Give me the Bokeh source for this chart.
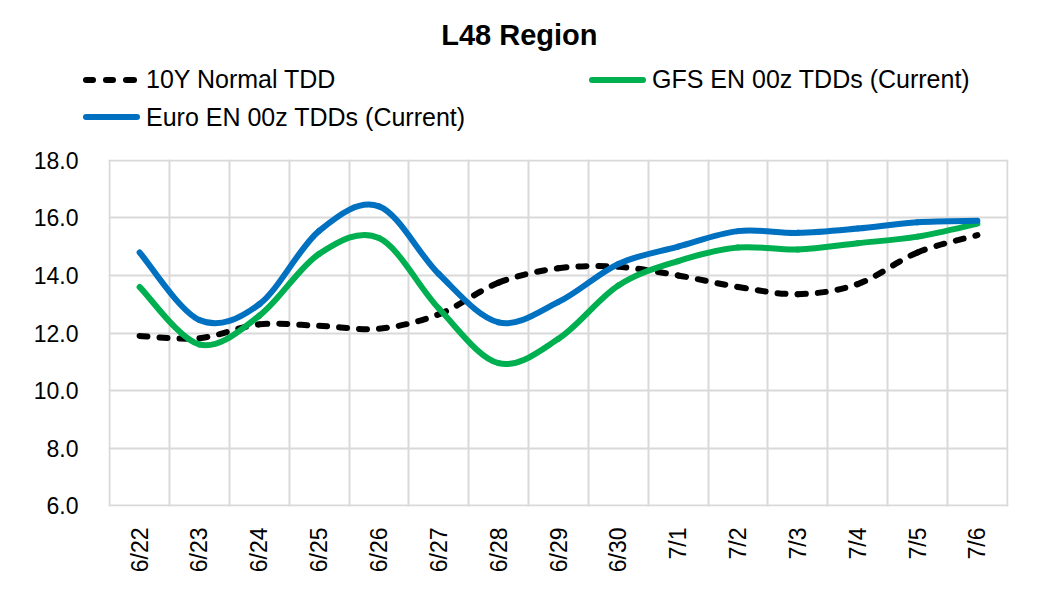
import numpy as np
from bokeh.plotting import figure
from bokeh.layouts import column
from bokeh.models import Range1d, FixedTicker, Div
from bokeh.embed import file_html
from bokeh.resources import INLINE

# ---- data -------------------------------------------------------------
dates = ["6/22", "6/23", "6/24", "6/25", "6/26", "6/27", "6/28", "6/29",
         "6/30", "7/1", "7/2", "7/3", "7/4", "7/5", "7/6"]
normal_10y = [11.9, 11.82, 12.3, 12.25, 12.15, 12.65, 13.75, 14.25,
              14.3, 14.0, 13.6, 13.35, 13.7, 14.8, 15.4]
gfs_en = [13.6, 11.6, 12.6, 14.75, 15.3, 12.85, 10.95, 11.8,
          13.65, 14.5, 14.97, 14.9, 15.12, 15.35, 15.8]
euro_en = [14.8, 12.45, 13.0, 15.55, 16.4, 14.05, 12.37, 13.08,
           14.4, 15.0, 15.54, 15.48, 15.63, 15.85, 15.9]
y_ticks = [6, 8, 10, 12, 14, 16, 18]
title_text = "L48 Region"

series = [
    ("10Y Normal TDD", normal_10y, "#000000", "8 12"),
    ("GFS EN 00z TDDs (Current)", gfs_en, "#00B050", "solid"),
    ("Euro EN 00z TDDs (Current)", euro_en, "#0070C0", "solid"),
]

FONT = "Liberation Sans"
W = 1032
HEAD_H = 140
LEFT, RIGHT, TOP = 108, 24, 19

# ---- header (title + legend) as positioned HTML -----------------------
legend_pos = [(83, 80.0), (589, 80.0), (83, 117.3)]   # sample left, centre y


def sample_html(x, yc, color, dash):
    parts = []
    if dash == "solid":
        parts.append((x, 57))
    else:
        parts += [(x, 13), (x + 20, 13), (x + 40, 14)]
    return "".join(
        f'<div style="position:absolute;left:{l}px;top:{yc - 3}px;width:{w}px;height:6px;'
        f'border-radius:3px;background:{color};"></div>' for l, w in parts)


html = [f'<div style="position:relative;width:{W}px;height:{HEAD_H}px;'
        f'font-family:\'{FONT}\';color:#000;">']
html.append(f'<div style="position:absolute;left:369.4px;width:300px;top:20.5px;'
            f'text-align:center;font-weight:bold;font-size:29px;line-height:29px;'
            f'white-space:nowrap;">{title_text}</div>')
for (name, vals, color, dash), (lx, ly) in zip(series, legend_pos):
    html.append(sample_html(lx, ly, color, dash))
    html.append(f'<div style="position:absolute;left:{lx + 63}px;top:{ly + 8.5 - 21.2}px;'
                f'font-size:25px;line-height:25px;white-space:nowrap;">{name}</div>')
html.append('</div>')
head = Div(text="".join(html), width=W, height=HEAD_H, margin=0)

# ---- main chart -------------------------------------------------------
n = len(dates)
p = figure(width=W, height=454, output_backend="svg", toolbar_location=None,
           x_range=Range1d(-0.02, n + 0.02), y_range=Range1d(5.97, 18.03),
           min_border_left=LEFT, min_border_right=RIGHT,
           min_border_top=TOP, min_border_bottom=88)
p.outline_line_color = None
p.background_fill_color = "white"
p.border_fill_color = "white"

p.xgrid.ticker = FixedTicker(ticks=list(range(n + 1)))
p.ygrid.ticker = FixedTicker(ticks=y_ticks)
for g in (p.xgrid, p.ygrid):
    g.grid_line_color = "#D9D9D9"
    g.grid_line_width = 2

centers = [i + 0.5 for i in range(n)]
p.xaxis.ticker = FixedTicker(ticks=centers)
p.xaxis.major_label_overrides = {c: d for c, d in zip(centers, dates)}
p.xaxis.major_label_orientation = np.pi / 2
p.xaxis.major_label_standoff = 21
p.yaxis.ticker = FixedTicker(ticks=y_ticks)
p.yaxis.major_label_overrides = {t: f"{t:.1f}" for t in y_ticks}
p.yaxis.major_label_standoff = 30
for ax in (p.xaxis[0], p.yaxis[0]):
    ax.axis_line_color = None
    ax.major_tick_line_color = None
    ax.minor_tick_line_color = None
    ax.major_tick_out = 0
    ax.major_label_text_font = FONT
    ax.major_label_text_font_size = "23px"
    ax.major_label_text_color = "#000000"


def bezier_parts(xs, ys):
    m = len(xs)
    out = {k: [] for k in ("x0", "y0", "x1", "y1", "cx0", "cy0", "cx1", "cy1")}
    for i in range(m - 1):
        xm, ym = (xs[i - 1], ys[i - 1]) if i > 0 else (xs[i], ys[i])
        xp, yp = (xs[i + 2], ys[i + 2]) if i + 2 < m else (xs[i + 1], ys[i + 1])
        out["x0"].append(xs[i]); out["y0"].append(ys[i])
        out["x1"].append(xs[i + 1]); out["y1"].append(ys[i + 1])
        out["cx0"].append(xs[i] + (xs[i + 1] - xm) / 6)
        out["cy0"].append(ys[i] + (ys[i + 1] - ym) / 6)
        out["cx1"].append(xs[i + 1] - (xp - xs[i]) / 6)
        out["cy1"].append(ys[i + 1] - (yp - ys[i]) / 6)
    return out


for name, vals, color, dash in series:
    b = bezier_parts(centers, vals)
    p.bezier(line_color=color, line_width=6, line_dash=dash, line_cap="round",
             line_join="round", **b)

layout = column(head, p, spacing=0)
open("out.html", "w").write(file_html(layout, INLINE))
